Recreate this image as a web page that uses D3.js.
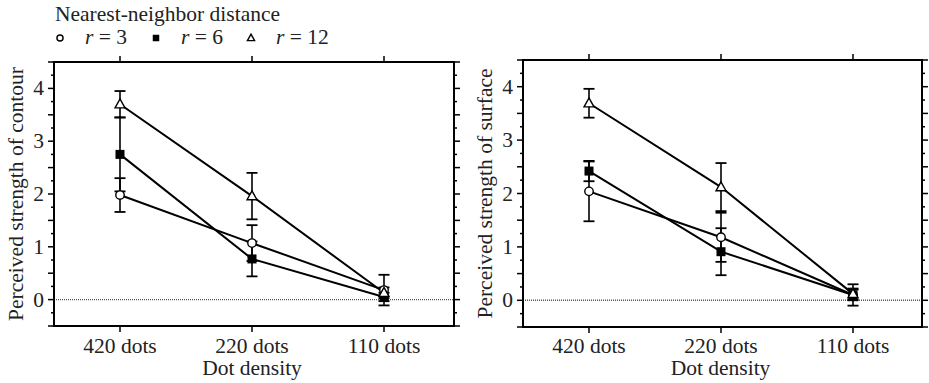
<!DOCTYPE html>
<html><head><meta charset="utf-8"><script src="https://cdn.jsdelivr.net/npm/d3@7"></script></head>
<body style="margin:0">
<script>
// categories and tick labels
var categories = ["420 dots", "220 dots", "110 dots"];
var yTicks = [0, 1, 2, 3, 4];
var seriesNames = ["r = 3", "r = 6", "r = 12"];
var seriesSymbols = ["circle", "square", "triangle"];

// contour panel (means and error half-widths)
var contourR3 = [1.98, 1.07, 0.18];
var contourR3Err = [0.32, 0.34, 0.29];
var contourR6 = [2.75, 0.77, 0.05];
var contourR6Err = [0.70, 0.33, 0.08];
var contourR12 = [3.70, 1.96, 0.13];
var contourR12Err = [0.25, 0.44, 0.10];

// surface panel
var surfaceR3 = [2.04, 1.18, 0.10];
var surfaceR3Err = [0.56, 0.46, 0.20];
var surfaceR6 = [2.42, 0.91, 0.10];
var surfaceR6Err = [0.19, 0.44, 0.10];
var surfaceR12 = [3.69, 2.12, 0.12];
var surfaceR12Err = [0.27, 0.45, 0.10];

var FONT = "'Liberation Serif'";

var panels = [
  {left: 54, right: 454, top: 62, bottom: 326, ylabel: "Perceived strength of contour", labelX: 23,
   means: [contourR3, contourR6, contourR12], errs: [contourR3Err, contourR6Err, contourR12Err]},
  {left: 523, right: 922, top: 60, bottom: 327, ylabel: "Perceived strength of surface", labelX: 492,
   means: [surfaceR3, surfaceR6, surfaceR12], errs: [surfaceR3Err, surfaceR6Err, surfaceR12Err]}
];

var svg = d3.select("body").append("svg")
  .attr("width", 929)
  .attr("height", 383)
  .style("font-family", FONT, "important");

function addText(g, size) {
  return g.append("text")
    .style("font-family", FONT, "important")
    .style("font-size", size + "px")
    .style("fill", "#222");
}

function drawSymbol(g, type, cx, cy, size) {
  if (type == "circle") {
    g.append("circle").attr("cx", cx).attr("cy", cy).attr("r", size * 0.47)
      .style("fill", "white").style("stroke", "black").style("stroke-width", 1.4);
  } else if (type == "square") {
    g.append("rect").attr("x", cx - size / 2).attr("y", cy - size / 2)
      .attr("width", size).attr("height", size).style("fill", "black");
  } else {
    var h = size * 0.95;
    g.append("path")
      .attr("d", "M" + cx + "," + (cy - h * 0.62) + "L" + (cx + size * 0.55) + "," + (cy + h * 0.42) +
        "L" + (cx - size * 0.55) + "," + (cy + h * 0.42) + "Z")
      .style("fill", "white").style("stroke", "black").style("stroke-width", 1.4);
  }
}

panels.forEach(function(p) {
  var x = d3.scalePoint().domain(categories).range([p.left, p.left + 396]).padding(0.5);
  var y = d3.scaleLinear().domain([-0.5, 4.5]).range([p.bottom, p.top]);

  // zero line (dotted)
  svg.append("line")
    .attr("x1", p.left).attr("x2", p.right)
    .attr("y1", y(0)).attr("y2", y(0))
    .style("stroke", "#555").style("stroke-width", 1.4).style("stroke-dasharray", "1,1");

  // minor / major ticks, left and right
  var quarter = d3.range(-0.5, 4.51, 0.25);
  quarter.forEach(function(v) {
    var len = (Math.abs(v * 2 - Math.round(v * 2)) < 1e-6) ? 6 : 3;
    svg.append("line").attr("x1", p.left - len).attr("x2", p.left)
      .attr("y1", y(v)).attr("y2", y(v)).style("stroke", "black").style("stroke-width", 1.5);
    svg.append("line").attr("x1", p.right).attr("x2", p.right + len)
      .attr("y1", y(v)).attr("y2", y(v)).style("stroke", "black").style("stroke-width", 1.5);
  });

  // category ticks, top and bottom
  categories.forEach(function(c) {
    svg.append("line").attr("x1", x(c)).attr("x2", x(c))
      .attr("y1", p.top - 6).attr("y2", p.top).style("stroke", "black").style("stroke-width", 1.5);
    svg.append("line").attr("x1", x(c)).attr("x2", x(c))
      .attr("y1", p.bottom).attr("y2", p.bottom + 6).style("stroke", "black").style("stroke-width", 1.5);
  });

  // frame
  svg.append("rect")
    .attr("x", p.left).attr("y", p.top)
    .attr("width", p.right - p.left).attr("height", p.bottom - p.top)
    .style("fill", "none").style("stroke", "black").style("stroke-width", 2);

  // y tick labels
  yTicks.forEach(function(d) {
    addText(svg, 21.5)
      .attr("x", p.left - 10)
      .attr("y", y(d) + 7)
      .attr("text-anchor", "end")
      .text(d);
  });

  // x tick labels
  categories.forEach(function(d) {
    addText(svg, 21.5)
      .attr("x", x(d))
      .attr("y", 353)
      .attr("text-anchor", "middle")
      .text(d);
  });

  // axis titles
  addText(svg, 21.5)
    .attr("x", (p.left + p.right) / 2 - 2)
    .attr("y", 375)
    .attr("text-anchor", "middle")
    .text("Dot density");
  addText(svg, 21.5)
    .attr("transform", "translate(" + p.labelX + "," + ((p.top + p.bottom) / 2) + ") rotate(-90)")
    .attr("text-anchor", "middle")
    .text(p.ylabel);

  var line = d3.line()
    .x(function(d, i) { return x(categories[i]); })
    .y(function(d) { return y(d); });

  p.means.forEach(function(vals, s) {
    // error bars
    vals.forEach(function(v, i) {
      var e = p.errs[s][i], cx = x(categories[i]);
      svg.append("line").attr("x1", cx).attr("x2", cx)
        .attr("y1", y(v + e)).attr("y2", y(v - e))
        .style("stroke", "black").style("stroke-width", 1.6);
      [v + e, v - e].forEach(function(w) {
        svg.append("line").attr("x1", cx - 5.5).attr("x2", cx + 5.5)
          .attr("y1", y(w)).attr("y2", y(w))
          .style("stroke", "black").style("stroke-width", 1.8);
      });
    });
    svg.append("path").datum(vals)
      .attr("d", line)
      .style("fill", "none").style("stroke", "black").style("stroke-width", 2);
  });

  p.means.forEach(function(vals, s) {
    vals.forEach(function(v, i) {
      drawSymbol(svg, seriesSymbols[s], x(categories[i]), y(v), 9);
    });
  });
});

// legend
addText(svg, 21.5)
  .attr("x", 55).attr("y", 21)
  .text("Nearest-neighbor distance");

var legendX = [60, 156, 251];
seriesNames.forEach(function(name, i) {
  drawSymbol(svg, seriesSymbols[i], legendX[i], 38, 6.5);
  var parts = name.split(" = ");
  var t = addText(svg, 21.5)
    .attr("x", legendX[i] + 25).attr("y", 44);
  t.append("tspan").style("font-style", "italic").text(parts[0]);
  t.append("tspan").text(" = " + parts[1]);
});
</script>
</body>
</html>
